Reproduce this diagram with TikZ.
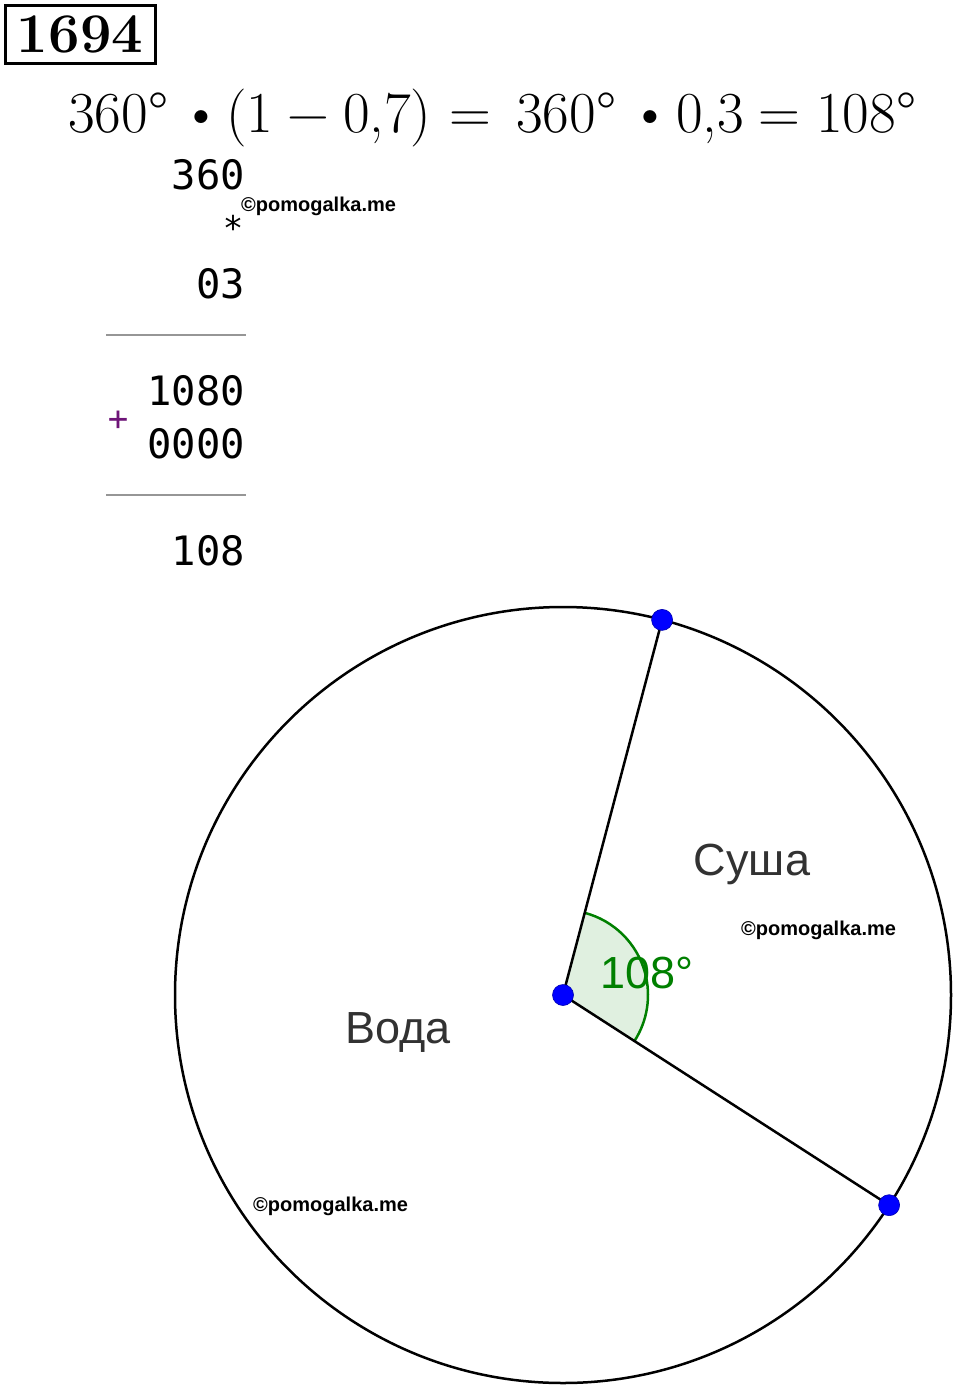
\documentclass[tikz,border=0pt]{standalone}
\usepackage{fontspec}
\newfontfamily\arial{Liberation Sans}
\newfontfamily\monof{DejaVu Sans Mono}
\usetikzlibrary{calc}
\definecolor{ggreen}{RGB}{0,128,0}
\definecolor{gfill}{RGB}{224,240,224}
\definecolor{labelgray}{RGB}{50,50,50}
\definecolor{rulegray}{RGB}{150,150,150}
\definecolor{plus}{RGB}{110,20,120}
\tikzset{
  wm/.style={font=\arial\bfseries\fontsize{20}{22}\selectfont, inner sep=0pt, anchor=west},
  digits/.style={font=\monof\fontsize{40.5}{42}\selectfont, inner sep=0pt, anchor=base east},
  eqt/.style={font=\fontsize{58}{60}\selectfont, inner sep=0pt, anchor=base west},
  rulel/.style={draw=rulegray, line width=2pt},
  sector/.style={font=\arial\fontsize{45}{48}\selectfont, text=labelgray, inner sep=0pt, anchor=base},
  pt/.style={circle, fill=blue, draw=blue!70!black, line width=0.6pt, minimum size=21pt, inner sep=0pt},
  geo/.style={line width=2.5pt, black},
}
\begin{document}
\begin{tikzpicture}[x=1pt,y=-1pt]
\useasboundingbox[fill=white] (0,0) rectangle (960,1392);
% title
\node[draw, line width=3pt, minimum width=150pt, minimum height=58pt, inner sep=0pt,
      font=\bfseries\fontsize{56}{60}\selectfont] (title) at (80,34) {1694};
% equation
\node[eqt] (e1) at (68,132) {360°};
\node[eqt] (e2) at (180,132) {\textbullet};
\node[eqt] (e3) at (226,132) {(1};
\node[eqt] (e4) at (287,132) {−};
\node[eqt] (e5) at (343,132) {0,7)};
\node[eqt] (e6) at (449,132) {=};
\node[eqt] (e7) at (516,132) {360°};
\node[eqt] (e8) at (629,132) {\textbullet};
\node[eqt] (e9) at (676,132) {0,3};
\node[eqt] (e10) at (758,132) {=};
\node[eqt] (e11) at (816,132) {108°};
% long multiplication
\node[digits] (m1) at (245,189) {360};
\node[font=\monof\fontsize{34}{36}\selectfont, inner sep=0pt] (ast) at (233,228) {*};
\node[digits] (m2) at (245,298) {03};
\coordinate (r1a) at (106,335); \coordinate (r1b) at (246,335);
\draw[rulel] (r1a) -- (r1b);
\node[digits] (p1) at (245,405) {1080};
\node[font=\monof\fontsize{34}{36}\selectfont, text=plus, inner sep=0pt] (plus) at (118,421) {+};
\node[digits] (p2) at (245,458) {0000};
\coordinate (r2a) at (106,495); \coordinate (r2b) at (246,495);
\draw[rulel] (r2a) -- (r2b);
\node[digits] (res) at (245,565) {108};
% watermarks
\node[wm] (w1) at (241,206) {©pomogalka.me};
\node[wm] (w2) at (741,930) {©pomogalka.me};
\node[wm] (w3) at (253,1206) {©pomogalka.me};
% pie
\coordinate (C) at (563,995);
\coordinate (A) at ($(C)+(-75.2:388)$);
\coordinate (B) at ($(C)+(32.8:388)$);
\fill[gfill] (C) -- ++(-75.2:85) arc[start angle=-75.2, end angle=32.8, radius=85] -- cycle;
\draw[ggreen, line width=2.5pt] ($(C)+(-75.2:85)$) arc[start angle=-75.2, end angle=32.8, radius=85];
\draw[geo] (C) circle[radius=388];
\draw[geo] (C) -- (A);
\draw[geo] (C) -- (B);
\node[font=\arial\fontsize{45}{48}\selectfont, text=ggreen, inner sep=0pt, anchor=base] (ang) at (647,988) {108°};
\node[sector] (su) at (752,875) {Суша};
\node[sector] (vo) at (398,1043) {Вода};
\node[pt] (pC) at (C) {};
\node[pt] (pA) at (A) {};
\node[pt] (pB) at (B) {};
\end{tikzpicture}
\end{document}
